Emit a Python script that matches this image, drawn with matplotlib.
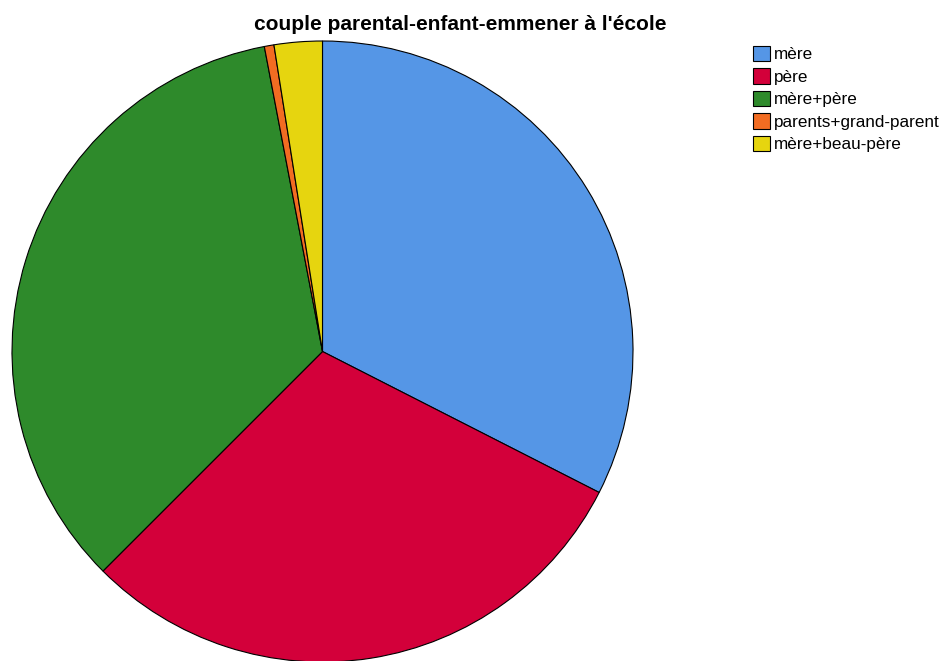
import numpy as np
import matplotlib.pyplot as plt

labels = ['mère', 'père', 'mère+père', 'parents+grand-parent', 'mère+beau-père']
counts = [65, 60, 69, 1, 5]
colors = ['#5596e6', '#d3003a', '#2e8a2b', '#f26c22', '#e6d50f']

plt.rcParams['font.family'] = ['Liberation Sans', 'DejaVu Sans']

fig = plt.figure(figsize=(9.46, 6.61), dpi=100)
W, H = 946, 661
cx, cy, r = 322.5, 351.5, 310.5
ax = fig.add_axes([(cx - r) / W, (H - cy - r) / H, 2 * r / W, 2 * r / H])

wedges, _ = ax.pie(counts, colors=colors, startangle=90, counterclock=False,
                   radius=1, wedgeprops=dict(edgecolor='black', linewidth=0.8))
ax.set_xlim(-1, 1)
ax.set_ylim(-1, 1)
ax.set_aspect('equal')
ax.axis('off')
for w in wedges:
    w.set_clip_on(False)

fig.text(460 / W, 1 - 30 / H, "couple parental-enfant-emmener à l'école",
         ha='center', va='baseline', fontsize=15, fontweight='bold')

fig.legend(wedges, labels, loc='upper left', bbox_to_anchor=(753 / W, 1 - 46 / H),
           frameon=False, fontsize=12.3, borderpad=0, borderaxespad=0,
           handlelength=1.0, handleheight=1.0, handletextpad=0.2,
           labelspacing=0.35)

fig.savefig('out.png', dpi=100)
